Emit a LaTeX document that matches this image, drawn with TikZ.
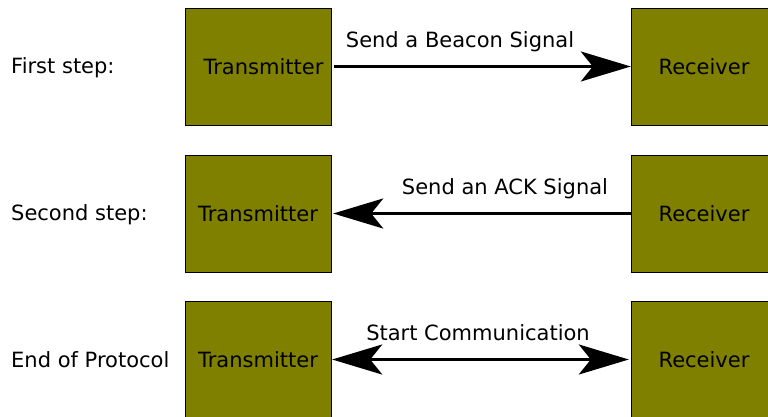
\documentclass[tikz,border=0pt]{standalone}
\usepackage{fontspec}
\setmainfont{DejaVu Sans}
\usetikzlibrary{arrows.meta}
\definecolor{boxolive}{HTML}{808000}
\tikzstyle{unit} = [rectangle, minimum width=146pt, minimum height=117pt, inner sep=0, text centered, draw=black, thin, fill=boxolive]
\tikzstyle{steplabel} = [anchor=base west, inner sep=0]
\tikzstyle{siglabel} = [anchor=base, inner sep=0, yshift=19pt]
\tikzstyle{sig} = [line width=3pt, >={Stealth[length=50pt,width=30pt,inset=12pt]}]

\begin{document}
\begin{tikzpicture}[x=1pt,y=-1pt,font=\fontsize{21}{25}\selectfont]
\clip (0,0) rectangle (768,417);

\node[unit] (tx1) at (258,66.5) {\hspace*{11pt}Transmitter};
\node[unit] (rx1) at (704,66.5) {Receiver};
\node[unit] (tx2) at (258,213.5) {Transmitter};
\node[unit] (rx2) at (704,213.5) {Receiver};
\node[unit] (tx3) at (258,359.5) {Transmitter};
\node[unit] (rx3) at (704,359.5) {Receiver};

\node[steplabel] (s1) at (11,74) {First step:};
\node[steplabel] (s2) at (11,220) {Second step:};
\node[steplabel] (s3) at (11,367) {End of Protocol};

\draw[sig,->,shorten <=3pt] (tx1) -- node[siglabel,pos=0.43] {Send a Beacon Signal} (rx1);
\draw[sig,->,shorten >=2pt] (rx2) -- node[siglabel,pos=0.42] {Send an ACK Signal} (tx2);
\draw[sig,<->,shorten <=1pt,shorten >=2pt] (tx3) -- node[siglabel,pos=0.49] {Start Communication} (rx3);
\end{tikzpicture}
\end{document}
